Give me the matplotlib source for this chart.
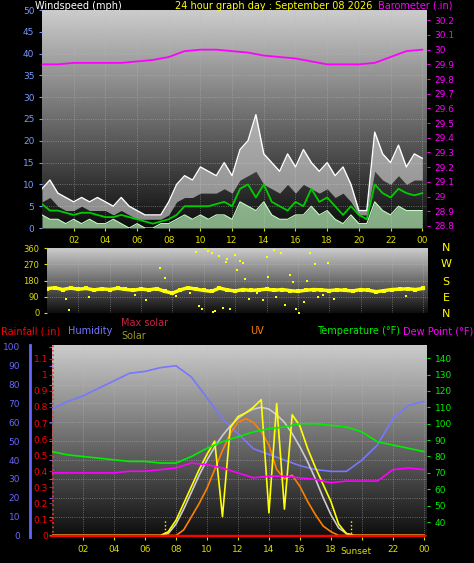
import numpy as np
import matplotlib
matplotlib.use("Agg")
import matplotlib.pyplot as plt

W, H = 474, 563
fig = plt.figure(figsize=(W/100, H/100), dpi=100, facecolor="black")

def ax_px(x0, y0, x1, y1):
    return fig.add_axes([x0/W, 1-y1/H, (x1-x0)/W, (y1-y0)/H])

# ---------------- data ----------------
hours_half = [i*0.5 for i in range(49)]
hours = list(range(25))
wind_gust = [9, 11, 8, 7, 6, 7, 6, 7, 6, 5, 7, 5, 4, 3, 3, 3, 6, 10, 12, 11, 14, 13, 12, 15, 12,
             18, 20, 26, 17, 15, 13, 17, 14, 18, 15, 13, 15, 12, 14, 10, 4, 4, 22, 17, 15, 19, 14, 17, 16]
wind_gust_low = [6, 7, 5, 4, 4, 5, 4, 4, 4, 3, 4, 3, 2, 2, 2, 2, 3, 6, 7, 7, 8, 8, 8, 9, 8,
                 11, 12, 13, 10, 9, 8, 10, 8, 10, 9, 8, 9, 7, 8, 6, 3, 3, 13, 11, 10, 12, 10, 11, 11]
wind_avg10 = [5.5, 4, 4, 3.5, 3, 3.5, 3.5, 3, 2.5, 2.5, 3, 2.5, 2, 1.5, 1, 1.5, 2, 3, 5, 5, 5, 5, 5.5, 6, 5,
              9, 10, 7, 10, 6, 5, 4, 6, 5, 9, 6, 7, 5, 3, 5, 3, 2, 10, 8, 7, 9, 8, 7.5, 8]
wind_speed = [3, 2, 2, 1, 2, 1, 2, 1, 1, 2, 1, 0, 1, 0, 0, 1, 1, 2, 3, 2, 3, 2, 3, 3, 2,
              6, 5, 4, 6, 3, 2, 2, 3, 3, 5, 3, 4, 2, 1, 3, 1, 1, 6, 4, 3, 5, 4, 4, 4]
baro = [29.90, 29.90, 29.91, 29.91, 29.91, 29.91, 29.92, 29.93, 29.95, 29.99, 30.00, 30.00, 29.99,
        29.98, 29.96, 29.95, 29.94, 29.92, 29.90, 29.90, 29.90, 29.91, 29.95, 29.99, 30.00]

dir_base = [135, 140, 130, 138, 132, 136, 128, 134, 130, 137, 131, 126, 133, 128, 135, 120, 110, 128, 140, 132,
            125, 120, 138, 128, 122, 130, 125, 128, 132, 126, 130, 124, 120, 126, 130, 128, 124, 128, 126, 122,
            130, 126, 118, 124, 130, 132, 134, 130, 136]
dir_out_h = [1.2, 1.4, 2.7, 5.6, 6.3, 7.2, 7.5, 9.5, 9.7, 10.1, 10.3, 10.5, 10.7, 11.0, 11.2, 11.5, 11.7, 12.0,
             12.1, 12.3, 12.5, 12.9, 13.8, 14.0, 14.1, 14.5, 14.6, 14.9, 15.2, 15.5, 15.7, 16.1, 16.4, 16.8,
             17.1, 17.3, 17.6, 17.9, 18.3, 22.9, 9.9, 10.6, 11.4, 12.6, 13.4, 15.9, 16.6, 8.2, 9.1]
dir_out_v = [75, 15, 90, 100, 70, 250, 195, 340, 40, 360, 345, 330, 10, 315, 30, 300, 20, 320,
             240, 290, 275, 80, 70, 310, 200, 350, 90, 330, 45, 210, 170, 0, 60, 330,
             270, 90, 100, 275, 80, 95, 20, 5, 280, 190, 110, 20, 175, 95, 110]

hum = [67, 71, 74, 78, 82, 86, 87, 89, 90, 84, 73, 62, 54, 46, 43, 40, 37, 35, 34, 34, 40, 48, 62, 69, 71]
temp = [83, 81, 80, 79, 78, 77, 77, 76, 76, 80, 85, 89, 92, 95, 97, 98, 100, 100, 99, 98, 95, 89, 87, 85, 83]
dew = [70, 70, 70, 70, 70, 71, 71, 72, 73, 76, 75, 73, 70, 67, 68, 68, 67, 66, 64, 65, 65, 65, 72, 73, 72]
rain = [0.0]*25
maxsolar = [0, 0, 0, 0, 0, 0, 0, 0, 0, 0, 0, 0, 0, 0, 0, 1, 6, 14, 23, 32, 40, 47, 53, 58, 62,
            65, 67, 68, 67, 64, 60, 54, 47, 39, 30, 20, 11, 4, 1, 0, 0, 0, 0, 0, 0, 0, 0, 0, 0]
solar = [0, 0, 0, 0, 0, 0, 0, 0, 0, 0, 0, 0, 0, 0, 0, 2, 8, 17, 26, 35, 43, 50, 10, 57, 63,
         65, 68, 72, 12, 70, 14, 64, 58, 46, 36, 27, 18, 6, 1, 0, 0, 0, 0, 0, 0, 0, 0, 0, 0]
uv = [0, 0, 0, 0, 0, 0, 0, 0, 0, 0, 0, 0, 0, 0, 0, 0, 0, 3, 10, 17, 25, 35, 45, 54, 60,
      62, 60, 55, 48, 35, 30, 32, 26, 18, 11, 5, 2, 0, 0, 0, 0, 0, 0, 0, 0, 0, 0, 0, 0]
sunrise, sunset = 7.3, 19.3
xt = [2, 4, 6, 8, 10, 12, 14, 16, 18, 20, 22, 24]
xtl = ["02", "04", "06", "08", "10", "12", "14", "16", "18", "20", "22", "00"]
xtl_bottom = ["02", "04", "06", "08", "10", "12", "14", "16", "18", "", "22", "00"]

grad = np.linspace(0.80, 0.05, 256).reshape(-1, 1)

def background(ax, x0, x1, y0, y1):
    ax.imshow(grad, cmap="gray", vmin=0, vmax=1, aspect="auto",
              extent=[x0, x1, y0, y1], zorder=0, interpolation="bilinear")
    ax.set_xlim(x0, x1); ax.set_ylim(y0, y1)
    ax.set_facecolor("black")
    ax.grid(True, color="#bbbbbb", linestyle=":", linewidth=0.6, alpha=0.6)
    for s in ax.spines.values():
        s.set_visible(False)

fs = 6.5
# ---------------- top panel ----------------
ax1 = ax_px(42, 10, 427, 228)
background(ax1, 0.0, 24.3, 0, 50)
ax1.fill_between(hours_half, wind_gust_low, wind_gust, color="#dddddd", alpha=0.6, zorder=2, lw=0)
ax1.plot(hours_half, wind_gust, color="white", lw=1.0, zorder=3)
ax1.fill_between(hours_half, 0, wind_speed, color="#b8f0b8", alpha=0.7, zorder=4, lw=0)
ax1.plot(hours_half, wind_speed, color="#c8ffc8", lw=0.8, zorder=4)
ax1.plot(hours_half, wind_avg10, color="#00cc00", lw=1.3, zorder=5)
ax1.set_yticks(range(0, 51, 5))
ax1.set_xticks(xt); ax1.set_xticklabels(xtl)
ax1.tick_params(axis="y", colors="#7799ff", labelsize=fs, length=2)
ax1.tick_params(axis="x", colors="#dddd00", labelsize=fs, length=2, pad=4)
ax1b = ax1.twinx()
ax1b.set_ylim(28.786, 30.27)
ax1b.plot(hours, baro, color="#ff00ff", lw=1.3, zorder=6)
ax1b.set_yticks([round(28.8 + 0.1*i, 1) for i in range(15)])
ax1b.set_yticklabels(["28.8", "28.9", "29", "29.1", "29.2", "29.3", "29.4", "29.5", "29.6",
                      "29.7", "29.8", "29.9", "30", "30.1", "30.2"])
ax1b.tick_params(axis="y", colors="#ff00ff", labelsize=fs, length=2)
for s in ax1b.spines.values():
    s.set_visible(False)
fig.text(35/W, 1-6/H, "Windspeed (mph)", color="white", fontsize=7, va="center")
fig.text(175/W, 1-6/H, "24 hour graph day : September 08 2026", color="yellow", fontsize=7, va="center")
fig.text(378/W, 1-6/H, "Barometer (.in)", color="#ff00ff", fontsize=7, va="center")

# ---------------- direction panel ----------------
ax2 = ax_px(47, 248, 428, 313)
background(ax2, 0.0, 24.3, 0, 360)
ax2.plot(hours_half, dir_base, color="yellow", lw=2.5, zorder=3)
ax2.scatter(hours_half, dir_base, s=5, color="yellow", marker="s", zorder=3, lw=0)
ax2.scatter(dir_out_h, dir_out_v, s=3, color="yellow", marker="s", zorder=3, lw=0)
ax2.set_yticks([0, 90, 180, 270, 360])
ax2.set_xticks(xt); ax2.set_xticklabels([])
ax2.tick_params(axis="y", colors="#dddd00", labelsize=6, length=2)
ax2.tick_params(axis="x", length=0)
for lab, yy in zip(["N", "W", "S", "E", "N"], [248, 264, 282, 298, 314]):
    fig.text(446/W, 1-yy/H, lab, color="yellow", fontsize=8, va="center", ha="center")

# ---------------- bottom panel ----------------
ax3 = ax_px(52, 345, 427, 537)
background(ax3, 0.0, 24.2, -0.8, 101)
ax3.axvline(sunrise, ymin=0, ymax=0.09, color="yellow", ls=":", lw=1)
ax3.axvline(sunset, ymin=0, ymax=0.09, color="yellow", ls=":", lw=1)
ax3.axvline(0.05, color="#ff3333", ls=":", lw=1.2, zorder=3)
ax3.plot(hours, hum, color="#7777ff", lw=1.2, zorder=4)
ax3.plot(hours_half, maxsolar, color="#cccccc", lw=1.2, zorder=5)
ax3.plot(hours_half, uv, color="#ff8000", lw=1.2, zorder=5)
ax3.plot(hours_half, solar, color="#ffff00", lw=1.2, zorder=6)
ax3.set_yticks(range(0, 101, 10))
ax3.set_xticks(xt); ax3.set_xticklabels(xtl_bottom)
ax3.tick_params(axis="y", colors="#6666ff", labelsize=fs, length=2, pad=21)
ax3.tick_params(axis="x", colors="#dddd00", labelsize=fs, length=2, pad=4)
ax3.text(sunset + 0.3, -6.0, "Sunset", color="#dddd00", fontsize=fs, ha="center", va="top")
ax3.axvline(-1.45, color="#6666ff", lw=2, clip_on=False)
# rain axis
ax3r = ax3.twinx()
ax3r.set_ylim(-0.0088, 1.185)
ax3r.plot(hours, rain, color="red", lw=2.5, zorder=7)
ax3r.yaxis.set_ticks_position("left")
ax3r.set_yticks([round(0.1*i, 1) for i in range(12)])
ax3r.set_yticklabels(["0", "0.1", "0.2", "0.3", "0.4", "0.5", "0.6", "0.7", "0.8", "0.9", "1", "1.1"])
ax3r.tick_params(axis="y", colors="red", labelsize=fs, length=2, pad=1)
for s in ax3r.spines.values():
    s.set_visible(False)
# temperature axis
ax3t = ax3.twinx()
ax3t.set_ylim(30.9, 148)
ax3t.plot(hours, temp, color="#00ee00", lw=1.2, zorder=4)
ax3t.plot(hours, dew, color="#ff00ff", lw=1.2, zorder=4)
ax3t.set_yticks(range(40, 141, 10))
ax3t.tick_params(axis="y", colors="#00ee00", labelsize=fs, length=2)
for s in ax3t.spines.values():
    s.set_visible(False)

fig.text(1/W, 1-331/H, "Rainfall (.in)", color="red", fontsize=7, va="center")
fig.text(68/W, 1-331/H, "Humidity", color="#7777ff", fontsize=7, va="center")
fig.text(121/W, 1-323/H, "Max solar", color="#cc2244", fontsize=7, va="center")
fig.text(121/W, 1-336/H, "Solar", color="#999922", fontsize=7, va="center")
fig.text(250/W, 1-331/H, "UV", color="#ff8000", fontsize=7, va="center")
fig.text(317/W, 1-331/H, "Temperature (°F)", color="#00ee00", fontsize=7, va="center")
fig.text(403/W, 1-331/H, "Dew Point (°F)", color="#ff00ff", fontsize=7, va="center")

fig.savefig("out.png", dpi=100, facecolor="black")
